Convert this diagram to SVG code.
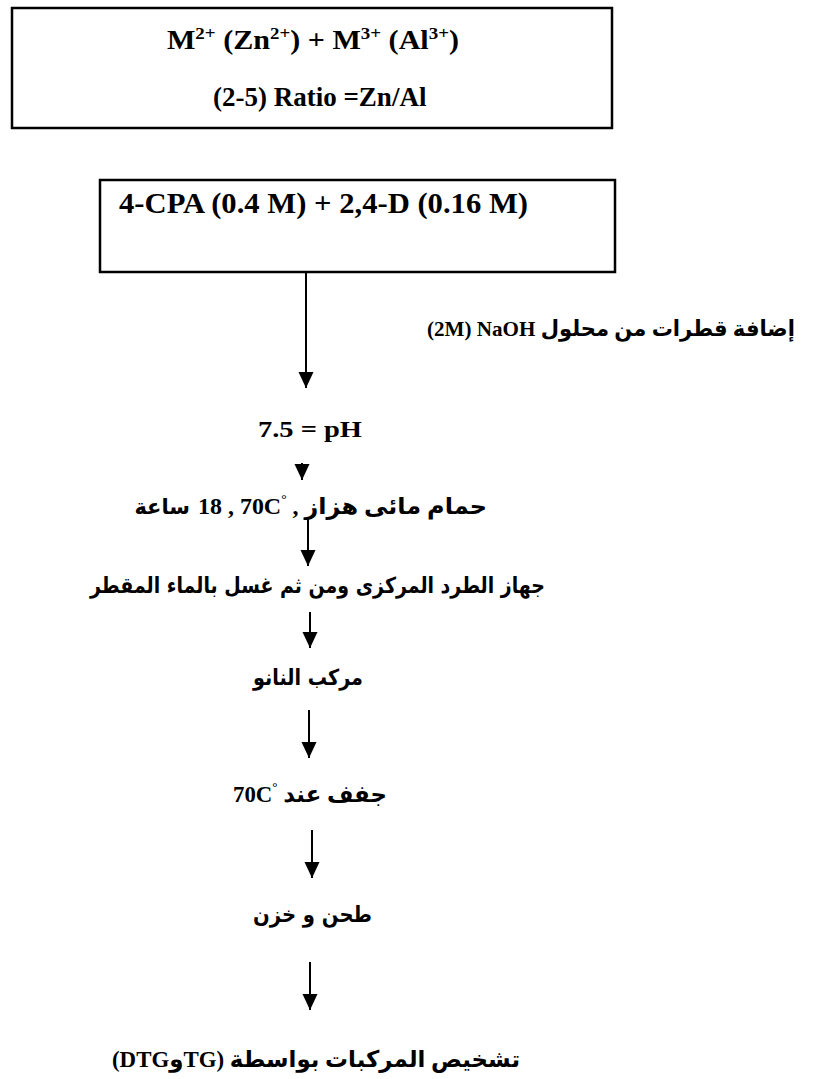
<svg xmlns="http://www.w3.org/2000/svg" width="814" height="1079" viewBox="0 0 814 1079">
<defs>
<marker id="ah" markerUnits="userSpaceOnUse" markerWidth="16" markerHeight="17" refX="17" refY="8" orient="auto" viewBox="0 0 17 16"><path d="M0,0 L17,8 L0,16 z" fill="#000"/></marker>
</defs>
<style>
.box{fill:#fff;stroke:#000;stroke-width:2.5}
.lat{font-family:'Liberation Serif','DejaVu Sans',serif;font-weight:bold;fill:#000}
.ar{font-family:'DejaVu Sans','Liberation Sans',sans-serif;font-weight:bold;fill:#000}
.con line{stroke:#000;stroke-width:2;marker-end:url(#ah)}
</style>
<rect width="814" height="1079" fill="#fff"/>
<g id="n1">
<rect class="box" x="12" y="8" width="600" height="120"/>
<text class="lat" x="167" y="49" font-size="27" textLength="292" lengthAdjust="spacingAndGlyphs">M<tspan font-size="17" dy="-10">2+</tspan><tspan dy="10"> (Zn</tspan><tspan font-size="17" dy="-10">2+</tspan><tspan dy="10">) +  M</tspan><tspan font-size="17" dy="-10">3+</tspan><tspan dy="10"> (Al</tspan><tspan font-size="17" dy="-10">3+</tspan><tspan dy="10">)</tspan></text>
<text class="lat" x="213" y="106" font-size="27">(2-5) Ratio =Zn/Al</text>
</g>
<g id="n2">
<rect class="box" x="100" y="180" width="515" height="92"/>
<text class="lat" x="119" y="213" font-size="29" textLength="409" lengthAdjust="spacingAndGlyphs">4-CPA (0.4 M) + 2,4-D (0.16 M)</text>
</g>
<g id="n3">
<text class="lat" x="795" y="336" font-size="22" text-anchor="end" textLength="368" lengthAdjust="spacingAndGlyphs">(2M) NaOH إضافة قطرات من محلول</text>
</g>
<g id="n4">
<text class="lat" x="258" y="437" font-size="23" textLength="104" lengthAdjust="spacingAndGlyphs">7.5 = pH</text>
</g>
<g id="n5">
<text class="ar" x="190" y="514" font-size="21" text-anchor="end">ساعة</text>
<text class="lat" x="198" y="514" font-size="23" textLength="289" lengthAdjust="spacingAndGlyphs">18 , 70C<tspan font-size="13" dy="-11">°</tspan><tspan dy="11"> , حمام مائى هزاز</tspan></text>
</g>
<g id="n6">
<text class="ar" x="90" y="593" font-size="22" textLength="455" lengthAdjust="spacingAndGlyphs">جهاز الطرد المركزى ومن ثم غسل بالماء المقطر</text>
</g>
<g id="n7">
<text class="ar" x="253" y="685" font-size="22" textLength="110" lengthAdjust="spacingAndGlyphs">مركب النانو</text>
</g>
<g id="n8">
<text class="lat" x="233" y="802" font-size="23" textLength="154" lengthAdjust="spacingAndGlyphs">70C<tspan font-size="13" dy="-11">°</tspan><tspan dy="11"> جفف عند</tspan></text>
</g>
<g id="n9">
<text class="ar" x="253" y="922" font-size="22" textLength="119" lengthAdjust="spacingAndGlyphs">طحن و خزن</text>
</g>
<g id="n10">
<text class="lat" x="112" y="1067" font-size="23" textLength="408" lengthAdjust="spacingAndGlyphs">(DTGوTG) تشخيص المركبات بواسطة</text>
</g>
<g id="connectors" class="con">
<line x1="306" y1="273" x2="306" y2="388"/>
<line x1="302" y1="463" x2="302" y2="480"/>
<line x1="308" y1="517" x2="308" y2="566"/>
<line x1="310" y1="612" x2="310" y2="648"/>
<line x1="309" y1="710" x2="309" y2="758"/>
<line x1="312" y1="830" x2="312" y2="878"/>
<line x1="310" y1="962" x2="310" y2="1010"/>
</g>
</svg>
